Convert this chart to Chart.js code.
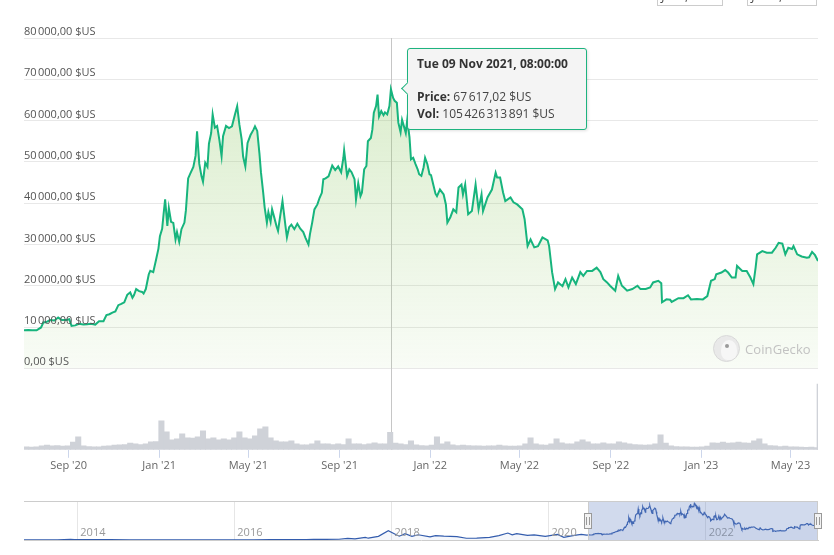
<!DOCTYPE html>
<html>
<head>
<meta charset="utf-8">
<title>Bitcoin price chart</title>
<script src="https://cdn.jsdelivr.net/npm/chart.js@4.4.1/dist/chart.umd.min.js"></script>
<style>
  body{margin:0;background:#fff;font-family:"Open Sans",sans-serif}
  #wrap{position:relative;width:834px;height:555px;overflow:hidden;background:#fff}
  canvas{position:absolute;left:0}
  #main{top:0}
  #nav{top:480px}
  .range{position:absolute;top:-15px;height:19px;border:1px solid #ccc;box-sizing:content-box;
         font-size:12px;color:#444;text-align:center;line-height:20px;overflow:hidden}
  #wm{position:absolute;left:713px;top:335px;height:27px;display:flex;align-items:center;
      font-size:13px;color:#c2c2c2;letter-spacing:.1px}
  #wm .logo{position:relative;width:25px;height:25px;border-radius:50%;border:1px solid #d8d8d8;
      background:#e9e9e9;margin-right:5px;overflow:hidden}
  #wm .logo i{position:absolute;left:7px;top:4px;width:16px;height:20px;border-radius:50% 50% 40% 40%;background:#f6f6f6}
  #wm .logo b{position:absolute;left:11px;top:8px;width:4px;height:4px;border-radius:50%;background:#9a9a9a}
  #tip{position:absolute;display:none;width:180px;box-sizing:border-box;padding:7px 9px;background:#f4f4f4;
       border:1px solid #1db37f;border-radius:3px;font-size:12px;line-height:16.5px;color:#444;
       white-space:nowrap;box-shadow:1px 1px 3px rgba(0,0,0,.12)}
  #tip b{color:#333}
  #tip:before{content:"";position:absolute;left:-5px;top:50%;width:8px;height:8px;margin-top:-5px;
       background:#f4f4f4;border-left:1px solid #1db37f;border-bottom:1px solid #1db37f;transform:rotate(45deg)}
</style>
</head>
<body>
<div id="wrap">
  <canvas id="main" width="834" height="480"></canvas>
  <canvas id="nav" width="834" height="75"></canvas>
  <div class="range" style="left:657px;width:64px">Jul 3, 2020</div>
  <div class="range" style="left:747px;width:68px">Jun 7, 2023</div>
  <div id="wm"><span class="logo"><i></i><b></b></span>CoinGecko</div>
  <div id="tip"></div>
</div>
<script>
// ---- data ----
const priceDates = [
  '2020-07-03','2020-07-09','2020-07-14','2020-07-20','2020-07-23','2020-07-26','2020-07-29',
  '2020-08-02','2020-08-07','2020-08-13','2020-08-18','2020-08-23','2020-08-29',
  '2020-09-02','2020-09-05','2020-09-10','2020-09-15','2020-09-21','2020-09-26',
  '2020-10-01','2020-10-07','2020-10-12','2020-10-18','2020-10-22','2020-10-26','2020-10-30',
  '2020-11-03','2020-11-07','2020-11-11','2020-11-15','2020-11-19','2020-11-23','2020-11-26','2020-11-28',
  '2020-12-01','2020-12-05','2020-12-09','2020-12-11','2020-12-14','2020-12-18','2020-12-20','2020-12-24','2020-12-28','2020-12-31',
  '2021-01-02','2021-01-05','2021-01-07','2021-01-09','2021-01-12','2021-01-14','2021-01-17','2021-01-20','2021-01-23','2021-01-25','2021-01-28','2021-01-31',
  '2021-02-04','2021-02-06','2021-02-09','2021-02-12','2021-02-16','2021-02-19','2021-02-21','2021-02-24','2021-02-27',
  '2021-03-01','2021-03-04','2021-03-07','2021-03-09','2021-03-12','2021-03-14','2021-03-17','2021-03-20','2021-03-23','2021-03-26','2021-03-28',
  '2021-04-01','2021-04-05','2021-04-09','2021-04-13','2021-04-16','2021-04-19','2021-04-22','2021-04-24','2021-04-27','2021-04-30',
  '2021-05-04','2021-05-08','2021-05-10','2021-05-13','2021-05-16','2021-05-18','2021-05-21','2021-05-23','2021-05-26','2021-05-28','2021-05-31',
  '2021-06-02','2021-06-05','2021-06-08','2021-06-10','2021-06-13','2021-06-16','2021-06-18','2021-06-20','2021-06-22','2021-06-25','2021-06-28',
  '2021-07-02','2021-07-06','2021-07-10','2021-07-14','2021-07-17','2021-07-21','2021-07-23','2021-07-26','2021-07-29',
  '2021-08-02','2021-08-05','2021-08-08','2021-08-10','2021-08-13','2021-08-17','2021-08-19','2021-08-22','2021-08-26','2021-08-30',
  '2021-09-03','2021-09-06','2021-09-07','2021-09-11','2021-09-14','2021-09-17','2021-09-21','2021-09-23','2021-09-26','2021-09-29',
  '2021-10-01','2021-10-04','2021-10-07','2021-10-09','2021-10-13','2021-10-15','2021-10-17','2021-10-20','2021-10-22','2021-10-24','2021-10-27','2021-10-30',
  '2021-11-01','2021-11-04','2021-11-07','2021-11-09','2021-11-12','2021-11-14','2021-11-17','2021-11-19','2021-11-22','2021-11-24','2021-11-27','2021-11-29',
  '2021-12-01','2021-12-04','2021-12-06','2021-12-09','2021-12-12','2021-12-15','2021-12-17','2021-12-20','2021-12-23','2021-12-25','2021-12-28','2021-12-31',
  '2022-01-02','2022-01-05','2022-01-08','2022-01-10','2022-01-14','2022-01-19','2022-01-22','2022-01-24','2022-01-28',
  '2022-02-01','2022-02-05','2022-02-08','2022-02-12','2022-02-14','2022-02-17','2022-02-21','2022-02-26',
  '2022-03-03','2022-03-07','2022-03-11','2022-03-13','2022-03-19','2022-03-25','2022-03-30',
  '2022-04-01','2022-04-05','2022-04-09','2022-04-12','2022-04-19','2022-04-23','2022-04-28',
  '2022-05-05','2022-05-08','2022-05-12','2022-05-16','2022-05-21','2022-05-26',
  '2022-06-01','2022-06-08','2022-06-10','2022-06-14','2022-06-18','2022-06-22','2022-06-28',
  '2022-07-02','2022-07-06','2022-07-11','2022-07-16','2022-07-22','2022-07-26','2022-07-31',
  '2022-08-07','2022-08-13','2022-08-18','2022-08-22','2022-08-27','2022-08-31',
  '2022-09-07','2022-09-11','2022-09-16','2022-09-19','2022-09-23','2022-09-30',
  '2022-10-07','2022-10-11','2022-10-18','2022-10-24','2022-10-28',
  '2022-11-04','2022-11-08','2022-11-09','2022-11-15','2022-11-20','2022-11-22','2022-11-27',
  '2022-12-01','2022-12-08','2022-12-14','2022-12-18','2022-12-26',
  '2023-01-03','2023-01-09','2023-01-14','2023-01-19','2023-01-21','2023-01-28',
  '2023-02-02','2023-02-06','2023-02-11','2023-02-16','2023-02-18','2023-02-25',
  '2023-03-03','2023-03-08','2023-03-12','2023-03-15','2023-03-17','2023-03-24','2023-03-30',
  '2023-04-06','2023-04-11','2023-04-15','2023-04-20','2023-04-24','2023-04-28',
  '2023-05-03','2023-05-05','2023-05-10','2023-05-16','2023-05-23','2023-05-26','2023-05-30',
  '2023-06-03','2023-06-07'
];
const prices = [
  9200,9300,9250,9200,9550,9900,11100,
  11200,11700,11600,12300,11700,11700,
  11900,10300,10400,10800,10600,10700,
  10800,10600,11400,11400,12900,13100,13500,
  13800,15300,15600,16000,17800,18400,17100,17700,
  19200,18700,18500,18100,19200,22800,23600,23300,26500,29000,
  32000,33800,37500,40900,34500,38800,35500,35200,31200,33000,30600,33700,
  35300,38300,46000,47200,48800,51500,57400,49500,46500,
  45200,49800,48800,54400,57000,61500,58300,58700,55400,51400,56200,
  58700,58200,58600,61500,63500,59000,55500,51300,48900,54600,
  56500,57800,58600,57500,52000,47500,42600,39000,35300,37800,35500,
  38500,36500,34400,33300,37000,40500,37500,34500,31700,34200,34800,
  33700,35000,33800,33000,31600,30000,32500,35300,38500,
  39700,41300,42500,45800,46000,46500,47500,49100,48000,48900,
  47500,51000,52800,46600,48200,47500,45800,40900,44800,41700,
  42600,48200,49000,55000,55800,57800,61900,63500,66300,61000,62300,61300,
  62000,61500,63500,67617.02,65500,64800,64300,59500,57200,60200,58300,57000,
  60200,56000,50600,51000,49500,48200,47000,46600,48700,51000,49500,47000,
  46800,44500,42300,41700,43300,42100,39700,35300,36600,
  38500,37800,43800,44500,42100,44500,37300,38100,
  44500,38500,42100,38100,41400,43300,47400,
  46200,46200,42600,40500,41400,40200,39700,
  38500,36100,29600,31200,29300,29600,
  31700,31000,29600,23300,19200,20800,19900,
  21600,19600,22000,20400,23300,22400,23600,
  23600,24400,23300,21600,20800,20000,
  18800,22400,20000,19500,18800,19200,
  20000,19200,19200,19600,20800,
  21200,20600,16000,16700,16600,16100,16600,
  17000,17000,17700,16700,16800,
  16700,17500,21200,21600,22800,23200,
  23800,23200,22000,22000,24800,23600,
  23600,22000,20400,24400,27600,28400,28000,
  28000,29200,30400,30200,27600,29200,
  28900,29600,27600,27100,26800,26900,28200,
  27400,26000
];

// weekly traded volume, billions of $US, one bar per week starting at volStart
const volStart = '2020-07-06';
const volumes = [
  18,17,18,24,28,24,25,22,24,46, 78,24,20,18,18,22,24,28,30,32,
  40,36,32,36,48,50,174,108,60,66, 96,72,70,78,114,66,72,60,66,60,
  72,108,72,66,84,126,138,72,54,48, 48,54,36,30,30,36,54,36,36,32,
  36,32,66,36,36,32,36,42,36,36, 105,40,36,32,54,30,26,24,28,78,
  36,48,30,26,28,26,24,24,22,24, 24,28,24,22,22,24,36,72,36,30,
  28,36,66,42,36,36,48,60,48,36, 36,42,36,36,48,42,36,32,30,28,
  30,36,90,40,24,20,18,18,16,16, 18,22,42,40,46,40,42,46,42,40,
  54,66,36,26,24,20,22,18,18,16, 15,16,14
];
const volSpikeDate = '2023-06-07';
const volSpike = 396;

const xMin = '2020-07-03';
const xMax = '2023-06-07';
const xTickDates = ['2020-09-01','2021-01-01','2021-05-01','2021-09-01','2022-01-01','2022-05-01','2022-09-01','2023-01-01','2023-05-01'];
const xTickLabels = ["Sep '20","Jan '21","May '21","Sep '21","Jan '22","May '22","Sep '22","Jan '23","May '23"];
const yTickValues = [0,10000,20000,30000,40000,50000,60000,70000,80000];
const yTickLabels = ['0,00\u00A0$US','10\u202F000,00\u00A0$US','20\u202F000,00\u00A0$US','30\u202F000,00\u00A0$US',
  '40\u202F000,00\u00A0$US','50\u202F000,00\u00A0$US','60\u202F000,00\u00A0$US','70\u202F000,00\u00A0$US','80\u202F000,00\u00A0$US'];

// hovered point shown in the reference
const tipDate = '2021-11-09';
const tipTime = '08:00:00';
const tipVolume = 105426313891;

// navigator: full history before the zoomed window (then the same price series)
const navMin = '2013-04-28';
const navHistDates = ['2013-04-28','2013-07-05','2013-10-01','2013-11-30','2013-12-18','2014-01-05','2014-03-01','2014-06-01',
  '2014-09-01','2014-12-01','2015-03-01','2015-06-01','2015-09-01','2015-11-04','2016-01-01','2016-04-01','2016-06-17',
  '2016-09-01','2016-12-01','2017-01-04','2017-03-01','2017-05-01','2017-06-11','2017-07-15','2017-09-01','2017-09-15',
  '2017-11-01','2017-12-17','2018-01-16','2018-02-06','2018-03-05','2018-04-06','2018-05-05','2018-06-29','2018-07-25',
  '2018-09-01','2018-11-01','2018-12-15','2019-02-01','2019-04-02','2019-05-15','2019-06-26','2019-07-16','2019-08-06',
  '2019-09-25','2019-10-26','2019-12-17','2020-02-12','2020-03-12','2020-04-30','2020-06-01','2020-06-27'];
const navHistPrices = [135,70,125,1100,520,900,560,650,
  480,380,250,230,230,400,430,420,750,
  600,750,1100,1200,1400,2900,2000,4700,3300,
  6700,17000,11000,7000,11500,6600,9700,5900,8200,
  7000,6300,3200,3450,4900,8000,12900,9500,11800,
  8500,9500,6600,10300,4900,8700,10200,9000];
const navTickDates = ['2014-01-01','2016-01-01','2018-01-01','2020-01-01','2022-01-01'];
const navTickLabels = ['2014','2016','2018','2020','2022'];

// ---- helpers ----
const LINE = '#17b47d';
const DAY = 864e5;
const FONT = '"Open Sans", sans-serif';
const dayNames = ['Sun','Mon','Tue','Wed','Thu','Fri','Sat'];
const monthNames = ['Jan','Feb','Mar','Apr','May','Jun','Jul','Aug','Sep','Oct','Nov','Dec'];

function groupNum(v, dec){
  const parts = v.toFixed(dec).split('.');
  return parts[0].replace(/\B(?=(\d{3})+(?!\d))/g, '\u202F') + (parts[1] ? ',' + parts[1] : '');
}

function priceFill(ctx){
  const chart = ctx.chart;
  const ys = chart.scales.y;
  if(!ys || ys.bottom === undefined) return 'rgba(143,200,100,0.2)';
  const g = chart.ctx.createLinearGradient(0, ys.top, 0, ys.bottom);
  g.addColorStop(0, 'rgba(143,200,100,0.36)');
  g.addColorStop(1, 'rgba(143,200,100,0.06)');
  return g;
}

function renderTip({ tooltip }){
  const el = document.getElementById('tip');
  if(!tooltip.opacity || !tooltip.dataPoints || !tooltip.dataPoints.length){ el.style.display = 'none'; return; }
  const raw = tooltip.dataPoints[0].raw;
  const d = new Date(raw.x);
  const title = `${dayNames[d.getUTCDay()]} ${String(d.getUTCDate()).padStart(2,'0')} ${monthNames[d.getUTCMonth()]} ${d.getUTCFullYear()}, ${tipTime}`;
  el.innerHTML = `<b>${title}</b><br><br><b>Price:</b> ${groupNum(raw.y, 2)}\u00A0$US<br><b>Vol:</b> ${groupNum(tipVolume, 0)}\u00A0$US`;
  el.style.display = 'block';
  el.style.left = (tooltip.caretX + 16) + 'px';
  el.style.top = (tooltip.caretY - el.offsetHeight / 2) + 'px';
}

const crosshair = {
  id: 'crosshair',
  beforeDatasetsDraw(chart){
    const act = chart.getActiveElements();
    if(!act.length) return;
    const x = Math.round(act[0].element.x) + 0.5;
    const { ctx, chartArea } = chart;
    ctx.save();
    ctx.strokeStyle = '#c6c6c6';
    ctx.lineWidth = 1;
    ctx.beginPath();
    ctx.moveTo(x, chartArea.top);
    ctx.lineTo(x, chartArea.bottom);
    ctx.stroke();
    ctx.restore();
  }
};

Chart.defaults.font.family = FONT;

// ---- main chart: price (top) + volume (bottom) on stacked y scales ----
const priceData = priceDates.map((d, i) => ({ x: Date.parse(d), y: prices[i] }));
const volData = volumes.map((v, i) => ({ x: Date.parse(volStart) + i * 7 * DAY, y: v }));

const main = new Chart(document.getElementById('main'), {
  type: 'line',
  data: {
    datasets: [
      { type:'line', data: priceData, yAxisID:'y', borderColor: LINE, borderWidth: 2, pointRadius: 0,
        pointHoverRadius: 0, tension: 0, fill: 'origin', backgroundColor: priceFill },
      { type:'bar', data: volData, yAxisID:'yv', backgroundColor:'#cfd2d8', barThickness: 5.4, grouped:false, borderWidth:0 },
      { type:'bar', data: [{ x: Date.parse(volSpikeDate), y: volSpike }], yAxisID:'yv', backgroundColor:'#cfd2d8',
        barThickness: 2, grouped:false, borderWidth:0 }
    ]
  },
  options: {
    responsive: false,
    animation: false,
    events: [],
    layout: { padding: { left: 24, right: 16, top: 38, bottom: 7 } },
    plugins: {
      legend: { display: false },
      tooltip: { enabled: false, external: renderTip }
    },
    scales: {
      x: {
        type: 'linear', offset: false, min: Date.parse(xMin), max: Date.parse(xMax),
        afterBuildTicks: s => { s.ticks = xTickDates.map(d => ({ value: Date.parse(d) })); },
        ticks: { callback: (v, i) => xTickLabels[i], color: '#666', font: { size: 11 }, padding: 1, maxRotation: 0, autoSkip: false },
        grid: { offset: false, drawOnChartArea: false, color: '#ccd6eb', tickLength: 8 },
        border: { display: false }
      },
      // volume is declared before price: left-hand stacks are laid out in reverse order
      yv: {
        type: 'linear', position: 'left', stack: 'v', stackWeight: 81.7, min: 0, max: 490,
        afterFit: s => { s.width = 0; },
        ticks: { display: false }, grid: { display: false }, border: { display: false }
      },
      y: {
        type: 'linear', position: 'left', stack: 'v', stackWeight: 331.3, min: 0, max: 80000,
        afterBuildTicks: s => { s.ticks = yTickValues.map(v => ({ value: v })); },
        afterFit: s => { s.width = 0; },
        ticks: { mirror: true, padding: 0, labelOffset: -6, z: 1, color: '#555', font: { size: 11 },
                 callback: (v, i) => yTickLabels[i] },
        grid: { color: '#e8e8e8', drawTicks: false },
        border: { display: false }
      }
    }
  },
  plugins: [crosshair]
});

const tipIndex = priceDates.indexOf(tipDate);
main.setActiveElements([{ datasetIndex: 0, index: tipIndex }]);
main.tooltip.setActiveElements([{ datasetIndex: 0, index: tipIndex }], { x: 0, y: 0 });
main.update();

// ---- navigator ----
const navOverlay = {
  id: 'navOverlay',
  afterDatasetsDraw(chart){
    const { ctx, chartArea: { left, right, top, bottom }, scales: { x } } = chart;
    ctx.save();
    // year labels sit inside the plot, just right of each grid line
    ctx.fillStyle = '#999';
    ctx.font = '11px ' + FONT;
    ctx.textAlign = 'left';
    ctx.textBaseline = 'alphabetic';
    x.ticks.forEach((t, i) => ctx.fillText(navTickLabels[i], x.getPixelForValue(t.value) + 3, bottom - 4));

    const x0 = Math.round(x.getPixelForValue(Date.parse(xMin)));
    const x1 = Math.round(x.getPixelForValue(Date.parse(xMax)));
    ctx.fillStyle = 'rgba(102,133,194,0.3)';
    ctx.fillRect(x0, top, x1 - x0, bottom - top);
    ctx.strokeStyle = '#cccccc';
    ctx.lineWidth = 1;
    ctx.beginPath();
    ctx.moveTo(left, top + 0.5); ctx.lineTo(right, top + 0.5);
    ctx.moveTo(x0 + 0.5, top); ctx.lineTo(x0 + 0.5, bottom);
    ctx.moveTo(x1 - 0.5, top); ctx.lineTo(x1 - 0.5, bottom);
    ctx.stroke();
    const cy = Math.round((top + bottom) / 2);
    [x0, x1].forEach(hx => {
      ctx.fillStyle = '#f2f2f2';
      ctx.strokeStyle = '#999999';
      ctx.fillRect(hx - 4, cy - 8, 8, 15);
      ctx.strokeRect(hx - 3.5, cy - 7.5, 7, 15);
      ctx.beginPath();
      ctx.moveTo(hx - 1.5, cy - 4); ctx.lineTo(hx - 1.5, cy + 4);
      ctx.moveTo(hx + 1.5, cy - 4); ctx.lineTo(hx + 1.5, cy + 4);
      ctx.stroke();
    });
    ctx.restore();
  }
};

const navData = navHistDates.map((d, i) => ({ x: Date.parse(d), y: navHistPrices[i] })).concat(priceData);

new Chart(document.getElementById('nav'), {
  type: 'line',
  data: { datasets: [{ data: navData, borderColor: '#335cad', borderWidth: 1.2, pointRadius: 0, tension: 0,
                       fill: 'origin', backgroundColor: 'rgba(51,92,173,0.05)' }] },
  options: {
    responsive: false,
    animation: false,
    events: [],
    layout: { padding: { left: 24, right: 16, top: 21, bottom: 15 } },
    plugins: { legend: { display: false }, tooltip: { enabled: false } },
    scales: {
      x: {
        type: 'linear', min: Date.parse(navMin), max: Date.parse(xMax),
        afterBuildTicks: s => { s.ticks = navTickDates.map(d => ({ value: Date.parse(d) })); },
        afterFit: s => { s.height = 0; },
        ticks: { display: false },
        grid: { color: '#e6e6e6', drawTicks: false },
        border: { color: '#cccccc' }
      },
      y: { display: false, min: 0, max: 72000 }
    }
  },
  plugins: [navOverlay]
});
</script>
</body>
</html>
